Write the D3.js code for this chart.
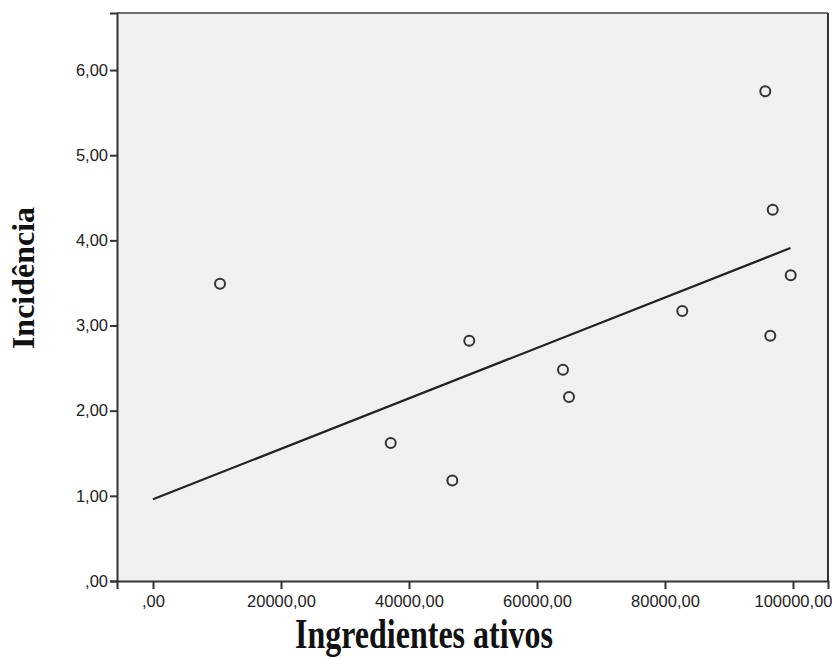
<!DOCTYPE html>
<html>
<head>
<meta charset="utf-8">
<script src="https://cdn.jsdelivr.net/npm/d3@7"></script>
<style>
  body { margin: 0; background: #fff; }
  .axis text { font-family: "Liberation Sans", Arial, sans-serif; font-size: 16.5px; fill: #222; }
  .axis path, .axis line { stroke: #333; stroke-width: 2px; }
  .title { font-family: "Liberation Serif", "Times New Roman", serif; font-weight: bold; font-size: 32px; fill: #111; }
</style>
</head>
<body>
<div id="chart"></div>
<script>
// ingredientes ativos (x) vs incidência (y)
const ingredientes = [10470, 37140, 46770, 49420, 64060, 65000, 82700, 95670, 96830, 99640, 96450]
const incidencia = [3.49, 1.62, 1.18, 2.82, 2.48, 2.16, 3.17, 5.75, 4.36, 3.59, 2.88]

// fit line (start / end)
const fitX = [0, 99600]
const fitY = [0.96, 3.91]

const xTicks = [0, 20000, 40000, 60000, 80000, 100000]
const yTicks = [0, 1, 2, 3, 4, 5, 6]

const fmt = v => (v === 0 ? ",00" : d3.format(".2f")(v).replace(".", ","))

const margin = {top: 13, right: 4, bottom: 78, left: 117}
const width = 832 - margin.left - margin.right
const height = 659 - margin.top - margin.bottom

const svg = d3.select("#chart").append("svg")
    .attr("width", 832)
    .attr("height", 659)

const g = svg.append("g")
    .attr("transform", `translate(${margin.left},${margin.top})`)

const x = d3.scaleLinear().domain([-5625, 105470]).range([0, width])
const y = d3.scaleLinear().domain([0, 6.67]).range([height, 0])

// plot area
g.append("rect")
    .attr("width", width)
    .attr("height", height)
    .attr("fill", "#f0f0f0")

// frame: top grey, right dark
g.append("line").attr("x1", 0).attr("x2", width).attr("y1", 0).attr("y2", 0)
    .attr("stroke", "#6e6e6e").attr("stroke-width", 2)
g.append("line").attr("x1", width).attr("x2", width).attr("y1", 0).attr("y2", height)
    .attr("stroke", "#333").attr("stroke-width", 2)

const xAxis = d3.axisBottom(x).tickValues(xTicks).tickFormat(fmt).tickSizeOuter(0).tickSize(8).tickPadding(6)
const yAxis = d3.axisLeft(y).tickValues(yTicks).tickFormat(fmt).tickSizeOuter(0).tickSize(7).tickPadding(2)

g.append("g")
    .attr("class", "axis x-axis")
    .attr("transform", `translate(0,${height})`)
    .call(xAxis)

g.append("g")
    .attr("class", "axis y-axis")
    .call(yAxis)

// fit line
const line = d3.line().x(d => x(d[0])).y(d => y(d[1]))
g.append("path")
    .datum(d3.zip(fitX, fitY))
    .attr("d", line)
    .attr("fill", "none")
    .attr("stroke", "#222")
    .attr("stroke-width", 2.2)

// points
g.selectAll("circle.pt")
    .data(d3.zip(ingredientes, incidencia))
    .join("circle")
    .attr("class", "pt")
    .attr("cx", d => x(d[0]))
    .attr("cy", d => y(d[1]))
    .attr("r", 5)
    .attr("fill", "none")
    .attr("stroke", "#333")
    .attr("stroke-width", 2)

// axis titles
svg.append("text")
    .attr("class", "title")
    .attr("text-anchor", "middle")
    .attr("transform", "translate(424,648) scale(1,1.3)")
    .text("Ingredientes ativos")

svg.append("text")
    .attr("class", "title")
    .attr("text-anchor", "middle")
    .attr("transform", "translate(34,278) rotate(-90)")
    .text("Incidência")
</script>
</body>
</html>
